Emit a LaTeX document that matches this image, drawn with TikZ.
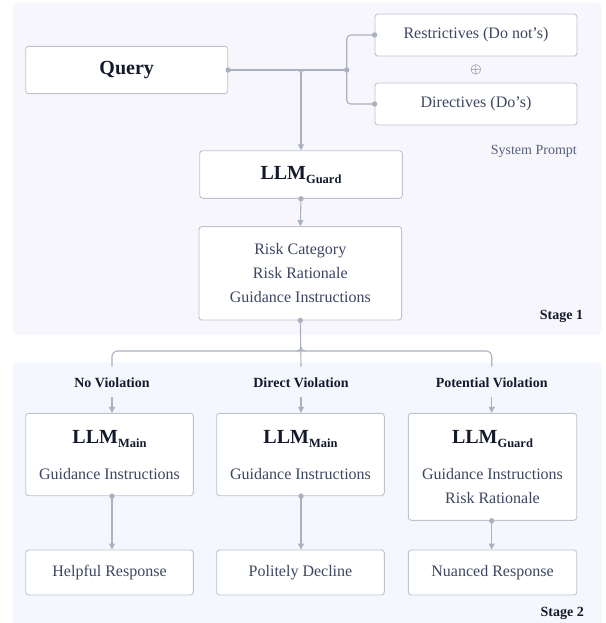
\documentclass[tikz,border=0pt]{standalone}
\usepackage{fontspec}
\setmainfont{Liberation Serif}
\usetikzlibrary{arrows.meta}
\definecolor{bgA}{HTML}{F7F6FD}
\definecolor{bgB}{HTML}{F4F7FE}
\definecolor{boxline}{HTML}{BFC3CD}
\definecolor{conncol}{HTML}{ABB1BE}
\definecolor{txt}{HTML}{3C4660}
\definecolor{head}{HTML}{131A2B}
\definecolor{subtxt}{HTML}{56607A}
\newcommand{\llmsub}[1]{{\fontsize{20}{22}\selectfont\bfseries LLM\raisebox{-4pt}{\fontsize{12.5}{13}\selectfont\bfseries #1}}}
\begin{document}
\begin{tikzpicture}[x=1pt,y=-1pt,
  box/.style={draw=boxline, line width=0.9pt, fill=white, rounded corners=3pt, inner sep=0pt, align=center},
  normtext/.style={text=txt, font=\fontsize{16}{24}\selectfont},
  headtext/.style={text=head, font=\fontsize{14}{16}\selectfont\bfseries, inner sep=0pt},
  bigtext/.style={text=head, inner sep=0pt},
  conn/.style={draw=conncol, line width=1.1pt},
  arr/.style={conn, -{Triangle[length=6pt,width=6pt]}},
  mydot/.style={fill=conncol}
]
\useasboundingbox (0,0) rectangle (605,623);
% backgrounds
\fill[bgA, rounded corners=5pt] (12.7,2.7) rectangle (601.7,335);
\fill[bgB, rounded corners=5pt] (12.7,362.3) rectangle (601.7,630);

% Stage 1 nodes
\node[box, minimum width=202pt, minimum height=47.3pt, text=head, font=\fontsize{20}{22}\selectfont\bfseries] (q) at (126.7,70) {Query};
\node[box, minimum width=202pt, minimum height=42pt, normtext] (rs) at (476,35) {Restrictives (Do not’s)};
\node[box, minimum width=202pt, minimum height=42pt, normtext] (ds) at (476,104) {Directives (Do’s)};
\node[text=txt, inner sep=0pt, font=\fontsize{14}{14}\selectfont] (plus) at (476,70) {$\oplus$};
\node[anchor=east, text=subtxt, inner sep=0pt, font=\fontsize{14}{16}\selectfont] (sp) at (577,151) {System Prompt};
\node[box, minimum width=202.6pt, minimum height=47.6pt] (lg) at (301,174.5) {};
\node[bigtext] (lgt) at (301,175) {\llmsub{Guard}};
\node[box, minimum width=202.7pt, minimum height=93.3pt, normtext] (risk) at (300.3,273.3) {Risk Category\\Risk Rationale\\Guidance Instructions};
\node[headtext, anchor=east] (s1) at (583.3,316.7) {Stage 1};

% Stage 1 connectors
\coordinate (fork1) at (301,70);
\coordinate (fl1) at (297,70);
\coordinate (fr1) at (305,70);
\coordinate (fd1) at (301,74);
\coordinate (J) at (346.7,70);
\draw[conn] (q.east) -- (J);
\draw[conn] (fl1) to[out=0,in=90] (fd1);
\draw[conn] (fr1) to[out=180,in=90] (fd1);
\draw[arr] (fd1) -- (lg.north);
\draw[conn, rounded corners=4pt] (J) |- (rs.west);
\draw[conn, rounded corners=4pt] (J) |- (ds.west);
\fill[mydot] (q.east) circle (2.7);
\fill[mydot] (J) circle (2.7);
\fill[mydot] (rs.west) circle (2.7);
\fill[mydot] (ds.west) circle (2.7);
\draw[arr] (lg.south) -- (risk.north);
\fill[mydot] (lg.south) circle (2.7);

% bus
\coordinate (c1) at (112,351);
\coordinate (c2) at (301,351);
\coordinate (c3) at (491.7,351);
\coordinate (e1) at (112,366.7);
\coordinate (e2) at (301,366.7);
\coordinate (e3) at (491.7,366.7);
\coordinate (fu2) at (301,347);
\coordinate (fl2) at (297,351);
\coordinate (fr2) at (305,351);
\draw[conn] (risk.south) -- (e2);
\draw[conn, rounded corners=5pt] (e1) -- (c1) -- (c3) -- (e3);
\draw[conn] (fu2) to[out=-90,in=0] (fl2);
\draw[conn] (fu2) to[out=-90,in=180] (fr2);
\fill[mydot] (risk.south) circle (2.7);

% Stage 2 labels
\node[headtext] (nv) at (112,382.3) {No Violation};
\node[headtext] (dv) at (301,382.3) {Direct Violation};
\node[headtext] (pv) at (491.7,382.3) {Potential Violation};

% Stage 2 boxes
\node[box, minimum width=167.6pt, minimum height=82.4pt] (m1) at (109.5,454.5) {};
\node[box, minimum width=167.6pt, minimum height=82.4pt] (m2) at (300.5,454.5) {};
\node[box, minimum width=168.4pt, minimum height=107pt] (m3) at (492.5,466.8) {};
\node[bigtext] (m1a) at (109.5,439) {\llmsub{Main}};
\node[bigtext] (m2a) at (300.5,439) {\llmsub{Main}};
\node[bigtext] (m3a) at (492.5,439) {\llmsub{Guard}};
\node[normtext, inner sep=0pt] (m1b) at (109.5,474) {Guidance Instructions};
\node[normtext, inner sep=0pt] (m2b) at (300.5,474) {Guidance Instructions};
\node[normtext, inner sep=0pt] (m3b) at (492.5,474) {Guidance Instructions};
\node[normtext, inner sep=0pt] (m3c) at (492.5,498.3) {Risk Rationale};

\node[box, minimum width=167.6pt, minimum height=45pt, normtext] (r1) at (109.5,572.5) {Helpful Response};
\node[box, minimum width=167.6pt, minimum height=45pt, normtext] (r2) at (300.5,572.5) {Politely Decline};
\node[box, minimum width=168.4pt, minimum height=45pt, normtext] (r3) at (492.5,572.5) {Nuanced Response};
\node[headtext, anchor=east] (s2) at (584,613.5) {Stage 2};

% Stage 2 connectors
\coordinate (a1) at (112,396.7);
\coordinate (a2) at (301,396.7);
\coordinate (a3) at (491.7,396.7);
\draw[arr] (a1) -- (a1 |- m1.north);
\draw[arr] (a2) -- (a2 |- m2.north);
\draw[arr] (a3) -- (a3 |- m3.north);
\draw[arr] (a1 |- m1.south) -- (a1 |- r1.north);
\draw[arr] (a2 |- m2.south) -- (a2 |- r2.north);
\draw[arr] (a3 |- m3.south) -- (a3 |- r3.north);
\fill[mydot] (a1 |- m1.south) circle (2.7);
\fill[mydot] (a2 |- m2.south) circle (2.7);
\fill[mydot] (a3 |- m3.south) circle (2.7);
\end{tikzpicture}
\end{document}
